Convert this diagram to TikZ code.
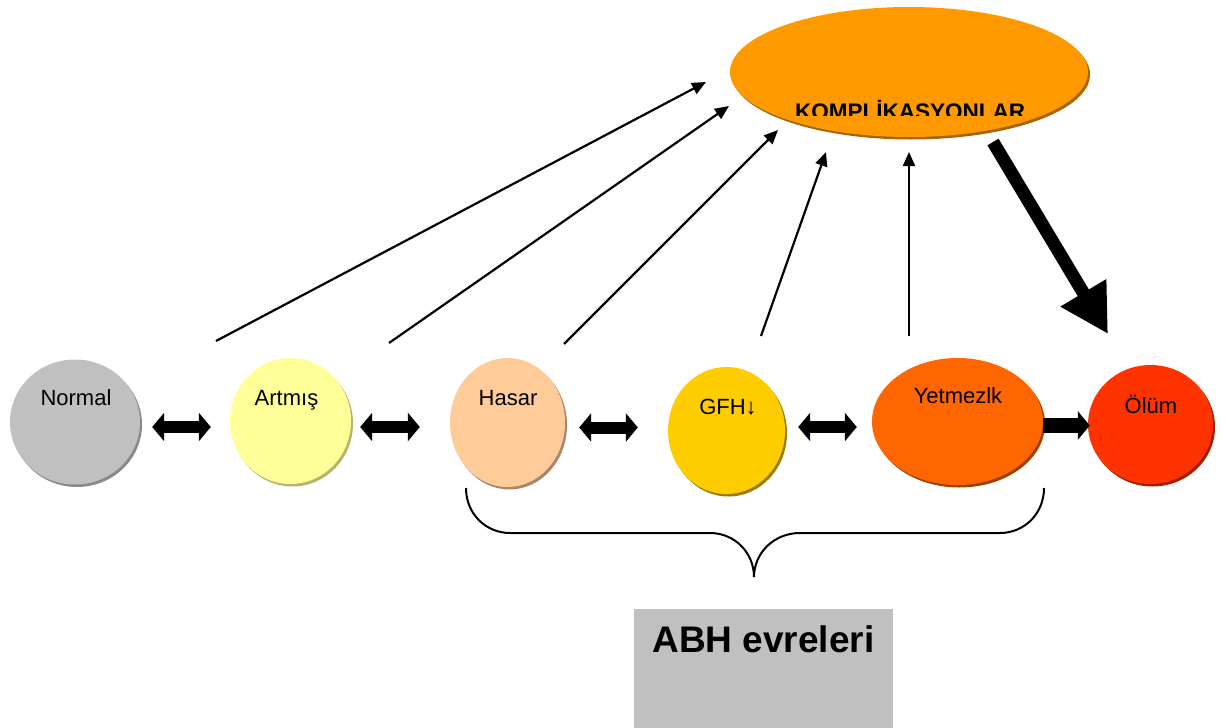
\documentclass[tikz,border=0pt]{standalone}
\usepackage{fontspec}
\setmainfont{Liberation Sans}
\usetikzlibrary{shapes.geometric,shadows,arrows.meta}
\definecolor{cNormal}{HTML}{C0C0C0}\definecolor{sNormal}{HTML}{8A8A8A}
\definecolor{cArt}{HTML}{FFFF99}\definecolor{sArt}{HTML}{B5B56A}
\definecolor{cHas}{HTML}{FFCC99}\definecolor{sHas}{HTML}{A8866A}
\definecolor{cGfh}{HTML}{FFCC00}\definecolor{sGfh}{HTML}{9C7C00}
\definecolor{cYet}{HTML}{FF6600}\definecolor{sYet}{HTML}{9E4000}
\definecolor{cOlu}{HTML}{FF3300}\definecolor{sOlu}{HTML}{9E2000}
\definecolor{cKom}{HTML}{FF9900}\definecolor{sKom}{HTML}{A86400}
\definecolor{cBox}{HTML}{C0C0C0}
\begin{document}
\begin{tikzpicture}[x=1pt,y=-1pt,
  stage/.style 2 args={ellipse, inner sep=0pt, fill=#1,
    drop shadow={shadow xshift=2pt, shadow yshift=-2.5pt, opacity=1, fill=#2}},
  lbl/.style={anchor=base, inner sep=0pt, font=\fontsize{22}{26}\selectfont},
  thinarr/.style={line width=2.2pt, -{Triangle[length=14pt,width=12pt]}},
  blkdbl/.style={line width=12pt, {Triangle[length=12pt,width=28pt]}-{Triangle[length=12pt,width=28pt]}},
  blkone/.style={line width=15pt, -{Triangle[length=12pt,width=28pt]}},
  bigarr/.style={line width=13pt, -{Triangle[length=48pt,width=50pt]}}]
\useasboundingbox (0,0) rectangle (1227,728);

% stage ellipses
\node[stage={cNormal}{sNormal}, minimum width=130pt, minimum height=125pt] (normal) at (75,422) {};
\node[stage={cArt}{sArt}, minimum width=121pt, minimum height=126pt] (artmis) at (290.5,421) {};
\node[stage={cHas}{sHas}, minimum width=115pt, minimum height=129pt] (hasar) at (507.5,422.5) {};
\node[stage={cGfh}{sGfh}, minimum width=117pt, minimum height=127pt] (gfh) at (726.5,430.5) {};
\node[stage={cYet}{sYet}, minimum width=171pt, minimum height=127pt] (yetm) at (957.5,421.5) {};
\node[stage={cOlu}{sOlu}, minimum width=125pt, minimum height=119pt] (olum) at (1150.5,424.5) {};
\node[stage={cKom}{sKom}, minimum width=358pt, minimum height=130pt] (komp) at (909,72) {};

% labels
\node[lbl] (normal-t) at (76,405) {Normal};
\node[lbl] (artmis-t) at (286.5,405) {Artmış};
\node[lbl] (hasar-t) at (508,405) {Hasar};
\node[lbl] (gfh-t) at (728,414) {GFH\char"2193};
\node[lbl] (yetm-t) at (958,403) {Yetmezlk};
\node[lbl] (olum-t) at (1151,413) {Ölüm};
\begin{scope}
  \clip (700,0) rectangle (1120,115);
  \node[anchor=base, inner sep=0pt, font=\bfseries\fontsize{22.5}{26}\selectfont] (komp-t) at (910,119) {KOMPLİKASYONLAR};
\end{scope}

% block arrows between stages
\draw[blkdbl, shorten <=12pt, shorten >=19pt] (normal.east |- 0,427) -- (artmis.west |- 0,427);
\draw[blkdbl, shorten <=9pt, shorten >=30pt] (artmis.east |- 0,427) -- (hasar.west |- 0,427);
\draw[blkdbl, shorten <=14pt, shorten >=30pt] (hasar.east |- 0,427.5) -- (gfh.west |- 0,427.5);
\draw[blkdbl, shorten <=13pt, shorten >=15pt] (gfh.east |- 0,427) -- (yetm.west |- 0,427);
\draw[blkone, shorten >=-2pt] (yetm.east |- 0,425.5) -- (olum.west |- 0,425.5);

% thin arrows to complications
\coordinate (t1) at (216,341); \coordinate (h1) at (706,82);
\coordinate (t2) at (389,343); \coordinate (h2) at (729,106);
\coordinate (t3) at (564,344); \coordinate (h3) at (778,130);
\coordinate (t4) at (761,336); \coordinate (h4) at (826,152);
\coordinate (t5) at (909,336); \coordinate (h5) at (909,152);
\draw[thinarr] (t1) -- (h1);
\draw[thinarr] (t2) -- (h2);
\draw[thinarr] (t3) -- (h3);
\draw[thinarr] (t4) -- (h4);
\draw[thinarr] (t5) -- (h5);

% thick arrow to death
\coordinate (bt) at (993,142); \coordinate (bh) at (1108,334);
\draw[bigarr] (bt) -- (bh);

% brace
\draw[line width=2pt] (466,488) .. controls (466,514) and (486,533) .. (510,533)
  -- (710,533) .. controls (735,533) and (754,553) .. (754,577)
  .. controls (754,553) and (774,533) .. (800,533)
  -- (1000,533) .. controls (1024,533) and (1044,514) .. (1044,488);

% ABH box
\fill[cBox] (634,609) rectangle (893,728);
\node[anchor=base, inner sep=0pt, font=\bfseries\fontsize{37}{41}\selectfont] (abh) at (763.5,652) {ABH evreleri};
\end{tikzpicture}
\end{document}
